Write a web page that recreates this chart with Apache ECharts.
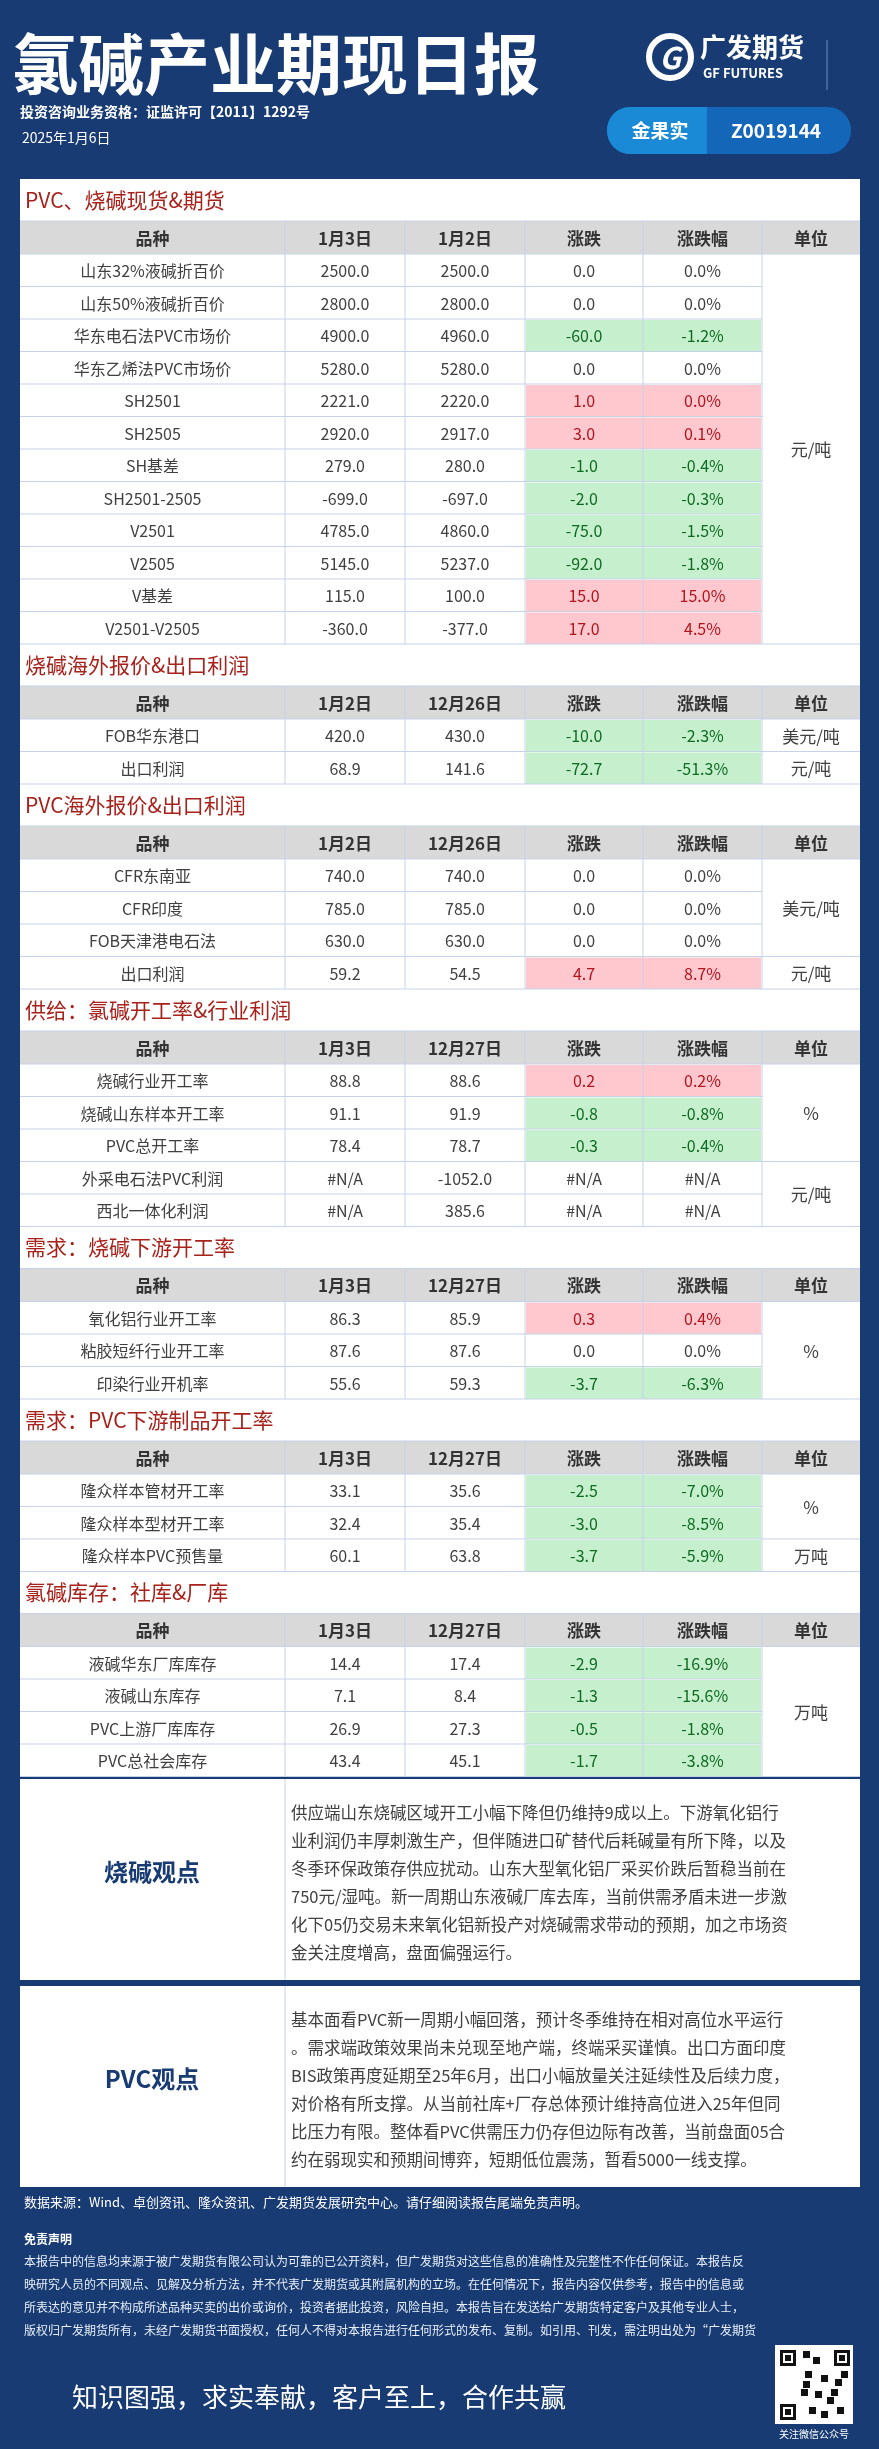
<!DOCTYPE html>
<html><head><meta charset="utf-8">
<script src="https://cdn.jsdelivr.net/npm/echarts@6/dist/echarts.min.js"></script>
<style>html,body{margin:0;padding:0;background:#173b72}#c{width:879px;height:2449px}</style>
</head><body><div id="c"></div>
<script>
// ---------- data ----------
const sectionTitles = ['PVC、烧碱现货&期货','烧碱海外报价&出口利润','PVC海外报价&出口利润','供给：氯碱开工率&行业利润','需求：烧碱下游开工率','需求：PVC下游制品开工率','氯碱库存：社库&厂库'];
const headerDates = [['1月3日','1月2日'],['1月2日','12月26日'],['1月2日','12月26日'],['1月3日','12月27日'],['1月3日','12月27日'],['1月3日','12月27日'],['1月3日','12月27日']];
const names1 = ['山东32%液碱折百价','山东50%液碱折百价','华东电石法PVC市场价','华东乙烯法PVC市场价','SH2501','SH2505','SH基差','SH2501-2505','V2501','V2505','V基差','V2501-V2505'];
const cur1 = [2500,2800,4900,5280,2221,2920,279,-699,4785,5145,115,-360];
const prev1 = [2500,2800,4960,5280,2220,2917,280,-697,4860,5237,100,-377];
const chg1 = [0,0,-60,0,1,3,-1,-2,-75,-92,15,17];
const pct1 = [0,0,-1.2,0,0,0.1,-0.4,-0.3,-1.5,-1.8,15.0,4.5];
const units1 = [['元/吨',12]];
const names2 = ['FOB华东港口','出口利润'];
const cur2 = [420,68.9]; const prev2 = [430,141.6]; const chg2 = [-10,-72.7]; const pct2 = [-2.3,-51.3];
const units2 = [['美元/吨',1],['元/吨',1]];
const names3 = ['CFR东南亚','CFR印度','FOB天津港电石法','出口利润'];
const cur3 = [740,785,630,59.2]; const prev3 = [740,785,630,54.5]; const chg3 = [0,0,0,4.7]; const pct3 = [0,0,0,8.7];
const units3 = [['美元/吨',3],['元/吨',1]];
const names4 = ['烧碱行业开工率','烧碱山东样本开工率','PVC总开工率','外采电石法PVC利润','西北一体化利润'];
const cur4 = [88.8,91.1,78.4,null,null]; const prev4 = [88.6,91.9,78.7,-1052,385.6]; const chg4 = [0.2,-0.8,-0.3,null,null]; const pct4 = [0.2,-0.8,-0.4,null,null];
const units4 = [['%',3],['元/吨',2]];
const names5 = ['氧化铝行业开工率','粘胶短纤行业开工率','印染行业开机率'];
const cur5 = [86.3,87.6,55.6]; const prev5 = [85.9,87.6,59.3]; const chg5 = [0.3,0,-3.7]; const pct5 = [0.4,0,-6.3];
const units5 = [['%',3]];
const names6 = ['隆众样本管材开工率','隆众样本型材开工率','隆众样本PVC预售量'];
const cur6 = [33.1,32.4,60.1]; const prev6 = [35.6,35.4,63.8]; const chg6 = [-2.5,-3.0,-3.7]; const pct6 = [-7.0,-8.5,-5.9];
const units6 = [['%',2],['万吨',1]];
const names7 = ['液碱华东厂库库存','液碱山东库存','PVC上游厂库库存','PVC总社会库存'];
const cur7 = [14.4,7.1,26.9,43.4]; const prev7 = [17.4,8.4,27.3,45.1]; const chg7 = [-2.9,-1.3,-0.5,-1.7]; const pct7 = [-16.9,-15.6,-1.8,-3.8];
const units7 = [['万吨',4]];
const opinionCaustic = '供应端山东烧碱区域开工小幅下降但仍维持9成以上。下游氧化铝行\n业利润仍丰厚刺激生产，但伴随进口矿替代后耗碱量有所下降，以及\n冬季环保政策存供应扰动。山东大型氧化铝厂采买价跌后暂稳当前在\n750元/湿吨。新一周期山东液碱厂库去库，当前供需矛盾未进一步激\n化下05仍交易未来氧化铝新投产对烧碱需求带动的预期，加之市场资\n金关注度增高，盘面偏强运行。';
const opinionPVC = '基本面看PVC新一周期小幅回落，预计冬季维持在相对高位水平运行\n。需求端政策效果尚未兑现至地产端，终端采买谨慎。出口方面印度\nBIS政策再度延期至25年6月，出口小幅放量关注延续性及后续力度，\n对价格有所支撑。从当前社库+厂存总体预计维持高位进入25年但同\n比压力有限。整体看PVC供需压力仍存但边际有改善，当前盘面05合\n约在弱现实和预期间博弈，短期低位震荡，暂看5000一线支撑。';
const disclaimer = '本报告中的信息均来源于被广发期货有限公司认为可靠的已公开资料，但广发期货对这些信息的准确性及完整性不作任何保证。本报告反\n映研究人员的不同观点、见解及分析方法，并不代表广发期货或其附属机构的立场。在任何情况下，报告内容仅供参考，报告中的信息或\n所表达的意见并不构成所述品种买卖的出价或询价，投资者据此投资，风险自担。本报告旨在发送给广发期货特定客户及其他专业人士，\n版权归广发期货所有，未经广发期货书面授权，任何人不得对本报告进行任何形式的发布、复制。如引用、刊发，需注明出处为“广发期货';

const sections = [
 [names1,cur1,prev1,chg1,pct1,units1],[names2,cur2,prev2,chg2,pct2,units2],[names3,cur3,prev3,chg3,pct3,units3],
 [names4,cur4,prev4,chg4,pct4,units4],[names5,cur5,prev5,chg5,pct5,units5],[names6,cur6,prev6,chg6,pct6,units6],[names7,cur7,prev7,chg7,pct7,units7]];

// ---------- layout ----------
const FONT = '"Noto Sans CJK SC","Noto Sans",sans-serif';
const L = 20, R = 860;
const colX = [20,285,405,525,643,762,860];
const TITLE_H = 42, HEAD_H = 33, ROW_H = 32.5;
const els = [];
const fmt = v => v === null ? '#N/A' : v.toFixed(1);
const fmtP = v => v === null ? '#N/A' : v.toFixed(1) + '%';
function rect(x,y,w,h,fill,z){els.push({type:'rect',shape:{x,y,width:w,height:h},style:{fill},z:z||1});}
function line(x1,y1,x2,y2,c,w){els.push({type:'line',shape:{x1,y1,x2,y2},style:{stroke:c,lineWidth:w||1},z:3});}
function txt(s,x,y,o){els.push(Object.assign({type:'text',x,y,z:5,style:Object.assign({text:s,fontFamily:FONT,fontSize:16,fill:'#404040',align:'center',verticalAlign:'middle'},o||{})}));}

// header
txt('氯碱产业期现日报',12,64,{fontSize:66,fontWeight:'bold',fill:'#fff',align:'left'});
txt('投资咨询业务资格：证监许可【2011】1292号',20,112,{fontSize:14,fontWeight:'bold',fill:'#fff',align:'left'});
txt('2025年1月6日',22,138,{fontSize:14,fill:'#fff',align:'left'});
// logo
els.push({type:'circle',shape:{cx:670,cy:57,r:21},style:{fill:'none',stroke:'#fff',lineWidth:6},z:5});
txt('G',670,58,{fontSize:30,fontWeight:'bold',fill:'#fff',fontStyle:'italic'});
txt('广发期货',700,47,{fontSize:26,fontWeight:'bold',fill:'#fff',align:'left'});
txt('GF FUTURES',703,73,{fontSize:13,fontWeight:'bold',fill:'#fff',align:'left'});
line(827,40,827,90,'#6f8fbf',1);
els.push({type:'rect',shape:{x:607,y:107,width:244,height:47,r:23},style:{fill:'#1466b8'},z:2});
els.push({type:'rect',shape:{x:607,y:107,width:100,height:47,r:[23,0,0,23]},style:{fill:'#1a8ad6'},z:3});
txt('金果实',660,131,{fontSize:19,fontWeight:'bold',fill:'#fff'});
txt('Z0019144',776,131,{fontSize:19,fontWeight:'bold',fill:'#fff'});

let y = 179;
const headNames = ['品种',null,null,'涨跌','涨跌幅','单位'];
sections.forEach((sec,si)=>{
  const [names,cur,prev,chg,pct,units] = sec;
  const n = names.length;
  const tableH = TITLE_H + HEAD_H + n*ROW_H;
  rect(L,y,R-L,tableH,'#fff',1);
  txt(sectionTitles[si],25,y+21,{fontSize:21,fill:'#a8221c',align:'left'});
  const hy = y+TITLE_H;
  rect(L,hy,R-L,HEAD_H,'#d9d9d9',2);
  const hdr = headNames.slice(); hdr[1]=headerDates[si][0]; hdr[2]=headerDates[si][1];
  hdr.forEach((h,ci)=>txt(h,(colX[ci]+colX[ci+1])/2,hy+HEAD_H/2+1,{fontSize:17,fontWeight:'bold',fill:'#333'}));
  for(let ci=1;ci<6;ci++) line(colX[ci],hy,colX[ci],hy+HEAD_H+n*ROW_H,'#c5d3e8',1);
  line(L,hy,R,hy,'#c5d3e8',1);
  for(let r=0;r<n;r++){
    const ry = hy+HEAD_H+r*ROW_H;
    const c = chg[r];
    if(c!==null && c!==0){
      const fill = c>0?'#ffc7ce':'#c6efce';
      rect(colX[3]+1,ry+1,colX[5]-colX[3]-2,ROW_H-1,fill,2);
    }
    const tc = c===null||c===0?'#404040':(c>0?'#b0151d':'#0e6b1f');
    txt(names[r],(colX[0]+colX[1])/2,ry+ROW_H/2+1);
    txt(fmt(cur[r]),(colX[1]+colX[2])/2,ry+ROW_H/2+1);
    txt(fmt(prev[r]),(colX[2]+colX[3])/2,ry+ROW_H/2+1);
    txt(fmt(c),(colX[3]+colX[4])/2,ry+ROW_H/2+1,{fill:tc});
    txt(fmtP(pct[r]),(colX[4]+colX[5])/2,ry+ROW_H/2+1,{fill:tc});
    line(L,ry,colX[5],ry,'#c5d3e8',1);
  }
  let ur = 0;
  units.forEach(([u,cnt])=>{
    const uy = hy+HEAD_H+ur*ROW_H;
    line(colX[5],uy,R,uy,'#c5d3e8',1);
    txt(u,(colX[5]+colX[6])/2,uy+cnt*ROW_H/2+1,{fontSize:17});
    ur+=cnt;
  });
  line(L,hy+HEAD_H+n*ROW_H,R,hy+HEAD_H+n*ROW_H,'#c5d3e8',1);
  y += tableH;
});

// opinions
[[ '烧碱观点',opinionCaustic,1779,201],['PVC观点',opinionPVC,1986,201]].forEach(([t,body,oy,oh])=>{
  rect(L,oy,R-L,oh,'#fff',1);
  line(colX[1],oy,colX[1],oy+oh,'#c5d3e8',1);
  txt(t,152,oy+oh/2-8,{fontSize:24,fontWeight:'bold',fill:'#173b72'});
  txt(body,291,oy+20,{fontSize:16.5,lineHeight:28,align:'left',verticalAlign:'top',fill:'#404040'});
});

// footer
txt('数据来源：Wind、卓创资讯、隆众资讯、广发期货发展研究中心。请仔细阅读报告尾端免责声明。',24,2202,{fontSize:13,fill:'#fff',align:'left'});
txt('免责声明',24,2239,{fontSize:12,fontWeight:'bold',fill:'#fff',align:'left'});
txt(disclaimer,24,2250,{fontSize:12,lineHeight:23,fill:'#e8eef8',align:'left',verticalAlign:'top'});
txt('知识图强，求实奉献，客户至上，合作共赢',72,2397,{fontSize:26,fill:'#fff',align:'left'});
rect(775,2345,78,79,'#fff',2);
const qr = [[3,3],[57,3],[3,57]];
qr.forEach(([dx,dy])=>{rect(775+dx+2,2345+dy+2,16,16,'#111',3);rect(775+dx+5,2345+dy+5,10,10,'#fff',4);rect(775+dx+7,2345+dy+7,6,6,'#111',5);});
[[28,6],[38,12],[30,26],[46,30],[60,34],[26,44],[40,46],[52,52],[62,62],[34,62],[46,66],[28,36],[56,44],[66,26]].forEach(([dx,dy])=>rect(775+dx,2345+dy,7,7,'#111',3));
txt('关注微信公众号',814,2434,{fontSize:10,fill:'#fff'});

const chart = echarts.init(document.getElementById('c'),null,{renderer:'canvas'});
chart.setOption({backgroundColor:'#173b72',animation:false,graphic:{elements:els}});
</script></body></html>
